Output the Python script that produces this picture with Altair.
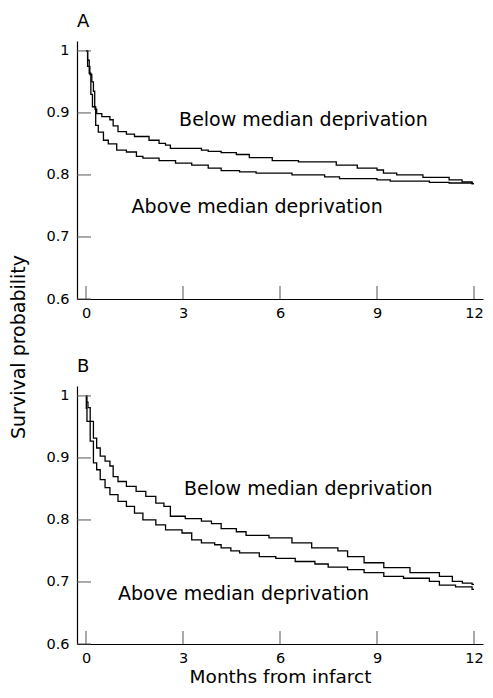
import altair as alt
import pandas as pd

# ---------------- data ----------------
group_names = ["Below median deprivation", "Above median deprivation"]

# Panel A
a_below_months = [0, 0.05, 0.10, 0.15, 0.20, 0.28, 0.33, 0.49, 0.74, 0.84, 0.99, 1.25, 1.50, 1.95,
                  2.26, 2.46, 2.61, 3.57, 3.78, 4.18, 4.65, 5.05, 5.76, 6.57, 7.74, 8.39, 9.00,
                  9.20, 9.61, 10.42, 11.23, 11.63, 11.94, 12.0]
a_below_surv = [1.0, 0.985, 0.964, 0.930, 0.910, 0.906, 0.899, 0.894, 0.889, 0.879, 0.870, 0.866,
                0.862, 0.856, 0.851, 0.848, 0.843, 0.840, 0.838, 0.836, 0.833, 0.828, 0.823, 0.821,
                0.816, 0.811, 0.808, 0.803, 0.800, 0.796, 0.792, 0.789, 0.786, 0.786]
a_above_months = [0, 0.05, 0.12, 0.18, 0.23, 0.27, 0.30, 0.38, 0.54, 0.69, 0.95, 1.25, 1.56, 1.76,
                  2.26, 2.77, 3.27, 3.78, 4.18, 4.75, 5.26, 6.37, 7.38, 7.84, 9.00, 9.41, 10.62,
                  11.23, 11.94, 12.0]
a_above_surv = [1.0, 0.975, 0.962, 0.950, 0.935, 0.910, 0.880, 0.869, 0.856, 0.850, 0.840, 0.837,
                0.830, 0.827, 0.823, 0.819, 0.816, 0.811, 0.807, 0.805, 0.803, 0.800, 0.797, 0.794,
                0.792, 0.790, 0.788, 0.787, 0.786, 0.786]

# Panel B
b_below_months = [0, 0.03, 0.06, 0.13, 0.23, 0.33, 0.44, 0.59, 0.74, 0.84, 0.99, 1.25, 1.55, 1.85,
                  2.16, 2.41, 2.61, 3.07, 3.57, 3.88, 4.18, 4.65, 4.95, 5.66, 6.37, 6.98, 7.79,
                  8.09, 8.60, 9.21, 10.02, 10.93, 11.33, 11.64, 11.94, 12.0]
b_below_surv = [1.0, 0.990, 0.981, 0.959, 0.932, 0.916, 0.903, 0.895, 0.887, 0.870, 0.862, 0.854,
                0.846, 0.838, 0.827, 0.822, 0.806, 0.802, 0.798, 0.794, 0.786, 0.781, 0.775, 0.771,
                0.763, 0.755, 0.750, 0.741, 0.731, 0.723, 0.715, 0.709, 0.701, 0.698, 0.696, 0.696]
b_above_months = [0, 0.01, 0.03, 0.13, 0.23, 0.33, 0.44, 0.59, 0.74, 0.99, 1.25, 1.50, 1.76, 2.16,
                  2.46, 2.97, 3.27, 3.57, 3.98, 4.18, 4.48, 4.75, 5.36, 5.87, 6.47, 7.08, 7.49,
                  8.09, 8.60, 9.21, 9.82, 10.62, 10.93, 11.43, 11.94, 12.0]
b_above_surv = [1.0, 0.980, 0.959, 0.927, 0.892, 0.881, 0.865, 0.852, 0.841, 0.830, 0.822, 0.811,
                0.800, 0.792, 0.784, 0.779, 0.768, 0.763, 0.760, 0.755, 0.750, 0.747, 0.741, 0.738,
                0.733, 0.729, 0.724, 0.720, 0.715, 0.709, 0.706, 0.701, 0.695, 0.692, 0.688, 0.688]

x_tick_values = [0, 3, 6, 9, 12]
y_tick_values = [0.6, 0.7, 0.8, 0.9, 1.0]
panel_labels = ["A", "B"]
x_title = "Months from infarct"
y_title = "Survival probability"

# annotation anchor points (month, survival) for each panel
a_label_month = [2.88, 1.41]
a_label_surv = [0.879, 0.738]
b_label_month = [3.03, 0.99]
b_label_surv = [0.840, 0.671]

# ---------------- styling ----------------
FONT = "DejaVu Sans"
W, H = 406, 258
X_DOMAIN = [-0.278, 12.278]
Y_DOMAIN = [0.6, 1.016]


def curves(m1, s1, m2, s2):
    return pd.DataFrame({
        "month": m1 + m2,
        "surv": s1 + s2,
        "group": [group_names[0]] * len(m1) + [group_names[1]] * len(m2),
    })


def make_panel(label, df, lab_m, lab_s, show_xtitle, show_ytitle):
    x_enc = alt.X(
        "month:Q",
        scale=alt.Scale(domain=X_DOMAIN, nice=False, zero=False),
        axis=alt.Axis(values=x_tick_values, ticks=False, tickSize=0, grid=False,
                      title=x_title if show_xtitle else None, format="d",
                      labelFont=FONT, labelFontSize=14.5, labelColor="black", labelPadding=7,
                      titleFont=FONT, titleFontSize=18.5, titleFontWeight="normal",
                      titleColor="black", titlePadding=3,
                      domainColor="black", domainWidth=1.2),
    )
    y_enc = alt.Y(
        "surv:Q",
        scale=alt.Scale(domain=Y_DOMAIN, nice=False, zero=False),
        axis=alt.Axis(values=y_tick_values, ticks=False, tickSize=0, grid=False, title=None,
                      format="~g", labelFont=FONT, labelFontSize=14.5, labelColor="black",
                      labelPadding=8, domainColor="black", domainWidth=1.2),
    )

    lines = alt.Chart(df).mark_line(interpolate="step-after", color="black",
                                    strokeWidth=1.3).encode(
        x=x_enc, y=y_enc, detail="group:N")

    xt = alt.Chart(pd.DataFrame({"month": x_tick_values})).mark_rule(
        color="#555", strokeWidth=1).encode(x=x_enc, y=alt.value(H), y2=alt.value(H - 13))
    yt = alt.Chart(pd.DataFrame({"surv": y_tick_values})).mark_rule(
        color="#555", strokeWidth=1).encode(y=y_enc, x=alt.value(0), x2=alt.value(14))

    ann = alt.Chart(pd.DataFrame({"month": lab_m, "surv": lab_s, "text": group_names})).mark_text(
        align="left", baseline="alphabetic", font=FONT, fontSize=19, color="black").encode(
        x=x_enc, y=y_enc, text="text:N")

    layers = [lines, xt, yt, ann]
    if show_ytitle:
        yt_title = alt.Chart(pd.DataFrame({"text": [y_title]})).mark_text(
            angle=270, align="center", baseline="middle", font=FONT, fontSize=19,
            color="black").encode(x=alt.value(-58), y=alt.value(306), text="text:N")
        layers.append(yt_title)

    return alt.layer(*layers).properties(
        width=W, height=H,
        title=alt.TitleParams(label, anchor="start", frame="group", font=FONT, fontSize=18,
                              fontWeight="normal", color="black", offset=10),
    )


panel_a = make_panel(panel_labels[0], curves(a_below_months, a_below_surv, a_above_months, a_above_surv),
                     a_label_month, a_label_surv, False, True)
panel_b = make_panel(panel_labels[1], curves(b_below_months, b_below_surv, b_above_months, b_above_surv),
                     b_label_month, b_label_surv, True, False)

chart = alt.vconcat(panel_a, panel_b, spacing=87, bounds="flush").properties(
    padding={"left": 2, "top": 5, "right": 0, "bottom": 0},
    background="white",
).configure_view(stroke=None)

chart.save("out.html", embed_options={"renderer": "svg", "actions": False})
